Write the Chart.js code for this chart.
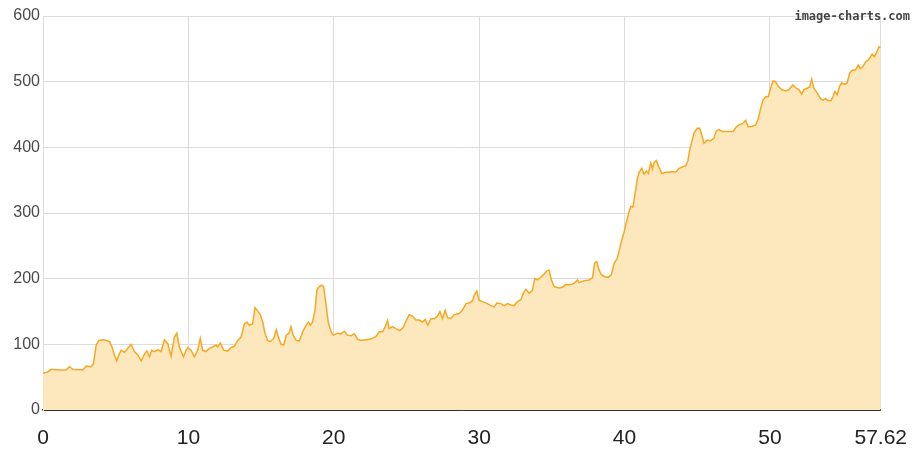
<!DOCTYPE html>
<html>
<head>
<meta charset="utf-8">
<script src="https://cdn.jsdelivr.net/npm/chart.js@4/dist/chart.umd.min.js"></script>
<style>
  html, body { margin: 0; padding: 0; background: #fff; }
  #chart { display: block; }
</style>
</head>
<body>
<canvas id="chart" width="923" height="454"></canvas>
<script>
// values
const xValues = [
    0, 0.33, 0.56, 1.13, 1.59, 1.82, 2.05, 2.74, 2.97, 3.31, 3.47, 3.66, 3.84, 4.11, 4.34, 4.57, 4.75, 4.91,
    5.07, 5.26, 5.37, 5.6, 5.83, 6.06, 6.29, 6.52, 6.75, 6.98, 7.14, 7.32, 7.48, 7.66, 7.89, 8.12, 8.35, 8.58,
    8.81, 9.04, 9.2, 9.38, 9.66, 9.84, 9.95, 10.18, 10.41, 10.64, 10.82, 10.98, 11.21, 11.44, 11.67, 11.9,
    12.01, 12.2, 12.43, 12.7, 12.93, 13.16, 13.39, 13.62, 13.85, 14.03, 14.19, 14.42, 14.58, 14.76, 14.95,
    15.11, 15.27, 15.45, 15.64, 15.86, 16.05, 16.19, 16.37, 16.55, 16.74, 16.92, 17.06, 17.2, 17.42, 17.63,
    17.86, 18.09, 18.25, 18.39, 18.54, 18.71, 18.84, 19.0, 19.16, 19.3, 19.46, 19.62, 19.81, 19.97, 20.26,
    20.49, 20.72, 20.95, 21.18, 21.41, 21.64, 21.87, 22.21, 22.56, 22.9, 23.13, 23.35, 23.54, 23.7, 23.81,
    24.04, 24.27, 24.55, 24.78, 25.0, 25.19, 25.42, 25.65, 25.88, 26.1, 26.29, 26.47, 26.68, 26.91, 27.13,
    27.3, 27.48, 27.66, 27.82, 28.05, 28.28, 28.63, 28.85, 29.09, 29.31, 29.54, 29.66, 29.84, 30.0, 30.23,
    30.57, 30.8, 31.03, 31.22, 31.49, 31.72, 31.95, 32.18, 32.41, 32.63, 32.87, 33.04, 33.21, 33.44, 33.66,
    33.83, 34.01, 34.24, 34.47, 34.65, 34.81, 34.97, 35.15, 35.5, 35.72, 35.96, 36.3, 36.53, 36.76, 36.87,
    37.22, 37.56, 37.79, 37.95, 38.09, 38.25, 38.41, 38.64, 38.87, 39.09, 39.28, 39.5, 39.81, 39.97, 40.12,
    40.31, 40.43, 40.58, 40.72, 40.88, 41.0, 41.18, 41.34, 41.5, 41.64, 41.8, 41.92, 42.03, 42.19, 42.32,
    42.56, 42.83, 43.06, 43.29, 43.52, 43.75, 43.97, 44.21, 44.36, 44.48, 44.62, 44.78, 45.0, 45.17, 45.31,
    45.46, 45.69, 45.92, 46.15, 46.31, 46.49, 46.72, 46.96, 47.18, 47.46, 47.68, 47.87, 48.1, 48.33, 48.51,
    48.78, 49.02, 49.2, 49.36, 49.52, 49.7, 49.88, 50.05, 50.21, 50.39, 50.57, 50.8, 51.08, 51.31, 51.58,
    51.81, 51.99, 52.18, 52.34, 52.56, 52.73, 52.87, 53.02, 53.25, 53.48, 53.64, 53.82, 54.01, 54.19, 54.33,
    54.47, 54.63, 54.79, 54.93, 55.15, 55.31, 55.48, 55.66, 55.89, 56.07, 56.23, 56.39, 56.58, 56.76, 56.92,
    57.03, 57.17, 57.31, 57.49, 57.62
];
const yValues = [
    56, 58, 62, 61, 61, 66, 62, 61, 67, 66, 71, 99, 106, 107, 106, 104, 96, 84,
    75, 86, 91, 88, 94, 100, 89, 84, 75, 85, 90, 81, 91, 89, 92, 89, 107, 101,
    82, 111, 117, 96, 81, 91, 95, 91, 81, 91, 109, 91, 89, 94, 96, 99,
    96, 102, 91, 90, 95, 97, 106, 111, 131, 134, 129, 131, 156, 151, 145,
    134, 117, 106, 104, 109, 122, 111, 100, 99, 114, 117, 127, 114, 106, 105,
    119, 129, 134, 129, 134, 152, 183, 188, 190, 188, 162, 134, 119, 114, 117,
    116, 120, 114, 113, 116, 108, 106, 107, 108, 112, 119, 119, 127, 136, 124,
    127, 124, 121, 126, 137, 145, 143, 137, 137, 134, 138, 129, 139, 139, 143,
    150, 139, 152, 141, 139, 145, 147, 152, 162, 163, 166, 175, 181, 167, 165,
    162, 159, 157, 163, 162, 159, 162, 160, 159, 165, 168, 178, 184, 178, 182,
    200, 198, 202, 207, 212, 213, 198, 188, 186, 187, 191, 191, 193, 198, 194,
    197, 198, 201, 224, 226, 213, 206, 203, 202, 206, 223, 231, 259, 271, 286,
    302, 310, 309, 329, 352, 362, 368, 359, 364, 360, 376, 367, 377, 380, 372,
    360, 362, 362, 363, 362, 368, 370, 372, 380, 396, 408, 422, 429, 429, 419,
    406, 411, 410, 414, 425, 427, 424, 424, 424, 424, 431, 434, 436, 441, 431,
    432, 434, 444, 459, 472, 477, 477, 490, 501, 500, 493, 488, 486, 488, 495,
    490, 488, 481, 488, 490, 492, 504, 490, 483, 474, 472, 474, 471, 471, 477,
    485, 480, 493, 498, 496, 498, 513, 517, 518, 525, 520, 523, 530, 533, 538,
    542, 538, 543, 553, 552
];
const xTicks = [0, 10, 20, 30, 40, 50, 57.62];
const yTicks = [0, 100, 200, 300, 400, 500, 600];

const points = xValues.map((x, i) => ({ x: x, y: yValues[i] }));

// small text in the top right corner
const watermark = {
    id: 'watermark',
    afterDraw(chart) {
        const ctx = chart.ctx;
        ctx.save();
        ctx.font = 'bold 12px "DejaVu Sans Mono", monospace';
        ctx.fillStyle = '#444';
        ctx.textAlign = 'right';
        ctx.textBaseline = 'middle';
        ctx.fillText('image-charts.com', 910, 17);
        ctx.restore();
    }
};

const ctx = document.getElementById('chart').getContext('2d');
const chart = new Chart(ctx, {
    type: 'line',
    data: {
        datasets: [{
            data: points,
            borderColor: '#f7a823',
            backgroundColor: '#fde8bd',
            borderWidth: 1.5,
            pointRadius: 0,
            tension: 0,
            fill: 'origin'
        }]
    },
    options: {
        responsive: false,
        animation: false,
        devicePixelRatio: 1,
        layout: { padding: { top: 16, right: 42, left: 0, bottom: 0 } },
        plugins: {
            legend: { display: false },
            tooltip: { enabled: false }
        },
        scales: {
            x: {
                type: 'linear',
                min: 0,
                max: 57.62,
                afterBuildTicks: (scale) => {
                    scale.ticks = xTicks.map(v => ({ value: v }));
                },
                afterFit: (scale) => { scale.height = 44; },
                ticks: {
                    autoSkip: false,
                    maxRotation: 0,
                    padding: 16,
                    color: '#222',
                    font: { family: '"Liberation Sans", Arial, sans-serif', size: 21 },
                    callback: (value) => String(value)
                },
                grid: { color: '#dcdcdc', drawTicks: false },
                border: { color: '#333', width: 1.5 }
            },
            y: {
                min: 0,
                max: 600,
                afterBuildTicks: (scale) => {
                    scale.ticks = yTicks.map(v => ({ value: v }));
                },
                afterFit: (scale) => { scale.width = 43; },
                ticks: {
                    padding: 3,
                    color: '#4a4a4a',
                    font: { family: '"Liberation Sans", Arial, sans-serif', size: 16 }
                },
                grid: {
                    color: (c) => c.tick && c.tick.value === 0 ? '#333' : '#dcdcdc',
                    drawTicks: false
                },
                border: { color: '#dcdcdc' }
            }
        }
    },
    plugins: [watermark]
});
</script>
</body>
</html>
